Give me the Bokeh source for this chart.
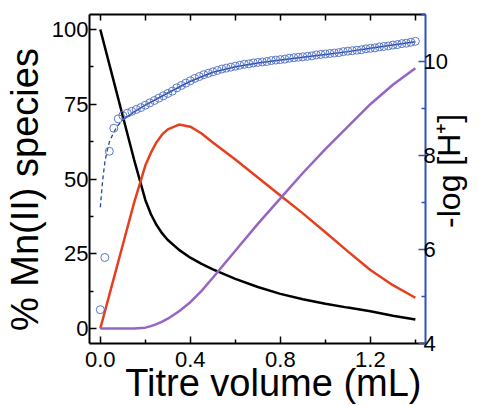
import math
from bokeh.plotting import figure
from bokeh.models import Range1d, LinearAxis, FixedTicker
from bokeh.embed import file_html
from bokeh.resources import INLINE

# ---- data ----
x_species = [0.00, 0.05, 0.10, 0.15, 0.20, 0.225, 0.25, 0.275, 0.30, 0.35, 0.40,
             0.45, 0.50, 0.60, 0.70, 0.80, 0.90, 1.00, 1.10, 1.20, 1.30, 1.40]
mn_free = [100.0, 85.5, 71.0, 56.5, 43.0, 38.2, 34.6, 31.8, 29.6, 26.3, 23.7,
           21.6, 19.8, 16.6, 13.9, 11.6, 9.8, 8.3, 7.0, 5.8, 4.3, 3.0]
mn_mid = [0.0, 14.0, 28.0, 42.0, 54.5, 58.8, 62.3, 64.9, 66.6, 68.2, 67.5,
          65.2, 62.2, 56.5, 50.5, 44.5, 38.5, 32.2, 25.8, 19.6, 14.5, 10.3]
mn_high = [0.0, 0.0, 0.0, 0.0, 0.3, 0.8, 1.5, 2.3, 3.3, 5.8, 8.8,
           12.6, 17.0, 26.0, 35.0, 43.5, 52.0, 60.0, 67.5, 75.0, 81.5, 87.0]

x_ph = [0.00, 0.02, 0.04, 0.06, 0.08, 0.10, 0.12, 0.14, 0.16, 0.18,
        0.20, 0.22, 0.24, 0.26, 0.28, 0.30, 0.32, 0.34, 0.36, 0.38,
        0.40, 0.42, 0.44, 0.46, 0.48, 0.50, 0.52, 0.54, 0.56, 0.58,
        0.60, 0.62, 0.64, 0.66, 0.68, 0.70, 0.72, 0.74, 0.76, 0.78,
        0.80, 0.82, 0.84, 0.86, 0.88, 0.90, 0.92, 0.94, 0.96, 0.98,
        1.00, 1.02, 1.04, 1.06, 1.08, 1.10, 1.12, 1.14, 1.16, 1.18,
        1.20, 1.22, 1.24, 1.26, 1.28, 1.30, 1.32, 1.34, 1.36, 1.38, 1.40]
ph_meas = [4.72, 5.83, 8.09, 8.58, 8.78, 8.85, 8.90, 8.94, 8.98, 9.02,
           9.07, 9.12, 9.17, 9.22, 9.27, 9.32, 9.37, 9.44, 9.49, 9.54,
           9.59, 9.64, 9.68, 9.72, 9.75, 9.78, 9.81, 9.84, 9.86, 9.88,
           9.90, 9.92, 9.94, 9.95, 9.97, 9.98, 9.99, 10.00, 10.02, 10.03,
           10.04, 10.05, 10.07, 10.08, 10.09, 10.10, 10.11, 10.12, 10.14, 10.15,
           10.16, 10.17, 10.18, 10.19, 10.21, 10.22, 10.23, 10.24, 10.25, 10.27,
           10.28, 10.29, 10.31, 10.32, 10.33, 10.35, 10.36, 10.38, 10.39, 10.41, 10.43]

x_fit_dash = [0.00, 0.01, 0.02, 0.03, 0.04, 0.06, 0.08, 0.10]
ph_fit_dash = [6.9, 7.45, 7.85, 8.10, 8.28, 8.50, 8.65, 8.76]
x_fit = [0.10, 0.15, 0.20, 0.30, 0.40, 0.50, 0.60, 0.70, 0.80, 0.90,
         1.00, 1.10, 1.20, 1.30, 1.40]
ph_fit = [8.76, 8.93, 9.07, 9.33, 9.58, 9.77, 9.89, 9.97, 10.03, 10.09,
          10.15, 10.21, 10.28, 10.35, 10.42]

left_ticks = [0, 25, 50, 75, 100]
left_minor = [12.5, 37.5, 62.5, 87.5]
bottom_ticks = [0.0, 0.4, 0.8, 1.2]
bottom_minor = [0.2, 0.6, 1.0, 1.4]
top_ticks = [0.0, 0.2, 0.4, 0.6, 0.8, 1.0, 1.2, 1.4]
right_ticks = [4, 6, 8, 10]
right_minor = [5, 7, 9, 11]

NB = "\u00a0"
FONT = "Liberation Sans"
BLUE_AXIS = "#2d52b8"
BLUE_PTS = "#5a78c8"
BLUE_FIT = "#2244a8"

p = figure(width=487, height=406, output_backend="svg", toolbar_location=None,
           x_range=Range1d(-0.048, 1.445), y_range=Range1d(-5, 105),
           min_border_left=87, min_border_right=58, min_border_top=14,
           min_border_bottom=63, x_axis_location=None, y_axis_location=None)
p.extra_y_ranges = {"ph": Range1d(4, 11)}
p.grid.visible = False
p.outline_line_color = None
p.background_fill_color = "white"
p.border_fill_color = "white"

def style(ax, color="black"):
    ax.axis_line_color = color
    ax.axis_line_width = 2
    ax.major_tick_line_color = color
    ax.minor_tick_line_color = color
    ax.major_tick_line_width = 1.5
    ax.minor_tick_line_width = 1.5
    ax.major_tick_in = 7
    ax.major_tick_out = 0
    ax.minor_tick_in = 4
    ax.minor_tick_out = 0
    ax.major_label_text_font = FONT
    ax.major_label_text_font_size = "22px"
    ax.major_label_text_color = "black"
    ax.axis_label_text_font = FONT
    ax.axis_label_text_font_size = "38px"
    ax.axis_label_text_font_style = "normal"
    ax.axis_label_text_color = "black"

left = LinearAxis(ticker=FixedTicker(ticks=left_ticks, minor_ticks=left_minor),
                  axis_label="% Mn(II) species" + NB * 2)
style(left)
left.major_label_standoff = 1
left.axis_label_standoff = 3
p.add_layout(left, "left")

bottom = LinearAxis(ticker=FixedTicker(ticks=bottom_ticks, minor_ticks=bottom_minor),
                    axis_label=NB * 3 + "Titre volume (mL)")
style(bottom)
bottom.major_label_standoff = 8
bottom.axis_label_standoff = -8
bottom.major_label_overrides = {0.0: "0.0", 0.4: "0.4", 0.8: "0.8", 1.2: "1.2"}
p.add_layout(bottom, "below")

# top frame edge: only tick marks (as minor ticks), no labels
top = LinearAxis(ticker=FixedTicker(ticks=[], minor_ticks=top_ticks))
style(top)
top.minor_tick_in = 6
p.add_layout(top, "above")

right_props = LinearAxis.properties()
right_pad = ""
right = LinearAxis(y_range_name="ph",
                   ticker=FixedTicker(ticks=right_ticks, minor_ticks=right_minor))
style(right, BLUE_AXIS)
right.axis_label_text_font_size = "32px"
right.major_label_standoff = -2
right.axis_label_standoff = -2
if "axis_label_orientation" in right_props:
    right.axis_label_orientation = math.pi / 2
if "axis_label_align" in right_props:
    right.axis_label_align = "start"
    right_pad = NB * 13
right.axis_label = right_pad + "-log [H\u207a]"
p.add_layout(right, "right")

# species curves
p.line(x_species, mn_free, line_color="black", line_width=2.5)
p.line(x_species, mn_mid, line_color="#e5401e", line_width=2.5)
p.line(x_species, mn_high, line_color="#9565c4", line_width=2.5)

# pH data and fit
p.line(x_fit_dash, ph_fit_dash, y_range_name="ph", line_color=BLUE_FIT,
       line_width=1.3, line_dash="4 3")
p.line(x_fit, ph_fit, y_range_name="ph", line_color=BLUE_FIT, line_width=1.5)
p.scatter(x_ph, ph_meas, y_range_name="ph", marker="circle", size=8,
          fill_color=None, line_color=BLUE_PTS, line_width=1)

open("out.html", "w").write(file_html(p, INLINE))
